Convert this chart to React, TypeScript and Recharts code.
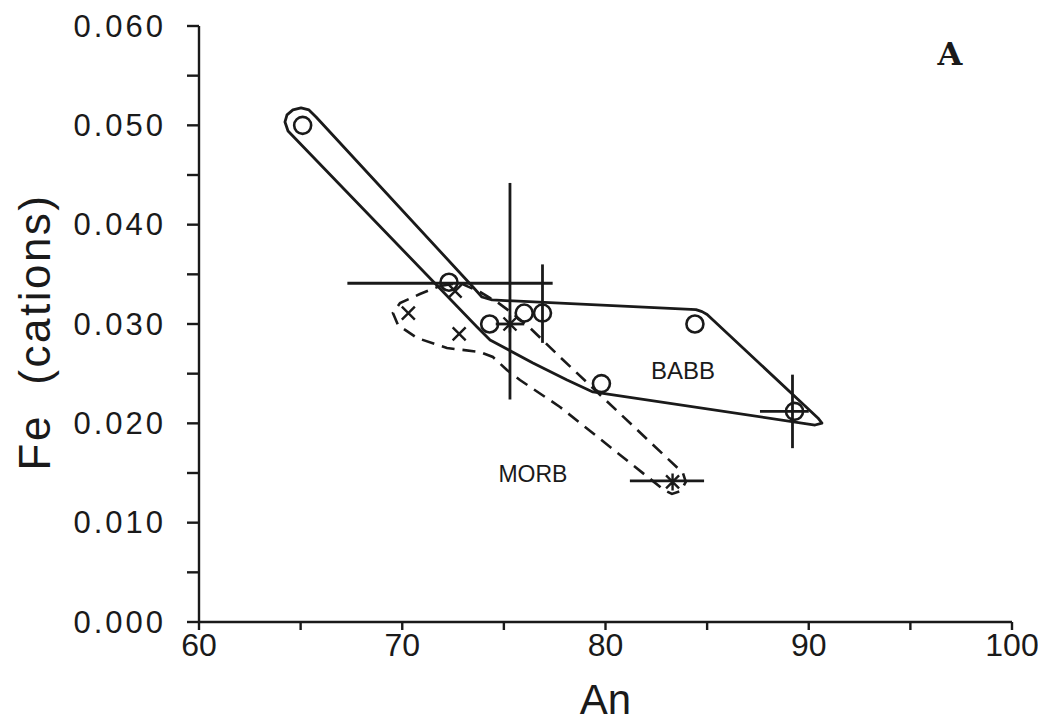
import React from 'react';
import {
  ComposedChart,
  Scatter,
  XAxis,
  YAxis,
  ReferenceLine,
  ReferenceDot,
  Label,
} from 'recharts';

// Open circles: back-arc basin basalt (BABB) plagioclase
const babbAn = [65.1, 72.3, 74.3, 76.0, 76.9, 79.8, 84.4, 89.3];
const babbFe = [0.05, 0.0342, 0.03, 0.0311, 0.0311, 0.024, 0.03, 0.0212];

// Crosses: MORB plagioclase
const morbCrossAn = [70.3, 72.8, 72.6];
const morbCrossFe = [0.0311, 0.029, 0.0333];

// Asterisks: MORB plagioclase (averages)
const morbStarAn = [75.3, 83.3];
const morbStarFe = [0.03, 0.0141];

// Error bars: [an low, an high, fe low, fe high]
const errorBars: [number, number, number, number][] = [
  [67.3, 77.4, 0.0341, 0.0341],
  [75.3, 75.3, 0.0224, 0.0442],
  [76.9, 76.9, 0.0281, 0.036],
  [74.6, 76.0, 0.03, 0.03],
  [87.6, 90.0, 0.0212, 0.0212],
  [89.2, 89.2, 0.0175, 0.0249],
  [81.2, 84.85, 0.0142, 0.0142],
];

// BABB field outline (solid)
const babbFieldAn = [
  65.76, 73.48, 73.92, 74.42, 84.45, 84.75, 85.0, 90.45, 90.65, 90.31, 79.38, 78.11,
  76.43, 74.32, 73.68, 64.38, 64.23, 64.33, 64.62, 65.02, 65.41, 65.76,
];
const babbFieldFe = [
  0.05084, 0.03373, 0.03272, 0.03242, 0.03145, 0.03125, 0.03095, 0.02054, 0.02003,
  0.01983, 0.02316, 0.02436, 0.02607, 0.02839, 0.0297, 0.04943, 0.05034, 0.05105,
  0.05155, 0.05175, 0.05155, 0.05084,
];

// MORB field outline (dashed)
const morbFieldAn = [
  71.86, 72.84, 73.83, 74.66, 75.4, 76.29, 77.76, 83.81, 83.95, 83.71, 83.27, 82.88,
  77.76, 75.79, 75.15, 74.46, 73.83, 72.2, 70.73, 69.79, 69.54, 69.89, 70.87, 71.86,
];
const morbFieldFe = [
  0.03383, 0.03413, 0.03322, 0.03222, 0.03111, 0.0296, 0.02668, 0.015, 0.0141,
  0.01319, 0.01289, 0.01329, 0.02165, 0.02436, 0.02537, 0.02668, 0.02718, 0.02758,
  0.02859, 0.0299, 0.03111, 0.03211, 0.03302, 0.03383,
];

const xTicks = [60, 65, 70, 75, 80, 85, 90, 95, 100];
const yTicks = [0, 0.005, 0.01, 0.015, 0.02, 0.025, 0.03, 0.035, 0.04, 0.045, 0.05, 0.055, 0.06];

const zip = (xs: number[], ys: number[]) => xs.map((an, i) => ({ an, fe: ys[i] }));

const babbPts = zip(babbAn, babbFe);
const crossPts = zip(morbCrossAn, morbCrossFe);
const starPts = zip(morbStarAn, morbStarFe);
const babbField = zip(babbFieldAn, babbFieldFe);
const morbField = zip(morbFieldAn, morbFieldFe);

const INK = '#1a1a1a';
const FONT = '"Liberation Sans", Arial, Helvetica, sans-serif';

const OpenCircle = (p: any) => (
  <circle cx={p.cx} cy={p.cy} r={8.5} fill="none" stroke={INK} strokeWidth={2.6} />
);

const Cross = (p: any) => {
  const s = 6.5;
  return (
    <path
      d={`M${p.cx - s},${p.cy - s}L${p.cx + s},${p.cy + s}M${p.cx - s},${p.cy + s}L${p.cx + s},${p.cy - s}`}
      stroke={INK}
      strokeWidth={2.4}
      fill="none"
    />
  );
};

const Star = (p: any) => {
  const s = 6.5;
  return (
    <path
      d={`M${p.cx - s},${p.cy - s}L${p.cx + s},${p.cy + s}M${p.cx - s},${p.cy + s}L${p.cx + s},${p.cy - s}M${p.cx},${p.cy - s - 2}L${p.cx},${p.cy + s + 2}`}
      stroke={INK}
      strokeWidth={2.4}
      fill="none"
    />
  );
};

const NoShape = () => <g />;

const YTick = (p: any) => {
  const v = p.payload.value as number;
  const major = Math.round(v * 1000) % 10 === 0;
  if (!major) return <g />;
  return (
    <text
      x={p.x}
      y={p.y}
      textAnchor="end"
      dominantBaseline="central"
      fontFamily={FONT}
      fontSize={31}
      letterSpacing={3}
      fill={INK}
    >
      {v.toFixed(3)}
    </text>
  );
};

const XTick = (p: any) => {
  const v = p.payload.value as number;
  if (v % 10 !== 0) return <g />;
  return (
    <text x={p.x} y={p.y + 24} textAnchor="middle" fontFamily={FONT} fontSize={32} fill={INK}>
      {v}
    </text>
  );
};

const Note = (text: string, size: number, family: string, weight: string) => (p: any) => (
  <text
    x={p.cx}
    y={p.cy}
    textAnchor="middle"
    dominantBaseline="central"
    fontFamily={family}
    fontSize={size}
    fontWeight={weight}
    fill={INK}
  >
    {text}
  </text>
);

export default function App() {
  return (
    <div style={{ width: 1030, height: 720, background: '#fff' }}>
      <ComposedChart
        width={1030}
        height={720}
        margin={{ top: 18, right: 26, bottom: 8, left: 0 }}
      >
        <XAxis
          type="number"
          dataKey="an"
          domain={[60, 100]}
          ticks={xTicks}
          interval={0}
          height={98}
          tickSize={8}
          tickMargin={2}
          stroke={INK}
          strokeWidth={2.4}
          tick={<XTick />}
          allowDataOverflow
        >
          <Label
            content={(p: any) => (
              <text
                x={p.viewBox.x + p.viewBox.width / 2}
                y={p.viewBox.y + 92}
                textAnchor="middle"
                fontFamily={FONT}
                fontSize={42}
                fill={INK}
              >
                An
              </text>
            )}
          />
        </XAxis>
        <YAxis
          type="number"
          dataKey="fe"
          domain={[0, 0.06]}
          ticks={yTicks}
          interval={0}
          width={191}
          tickSize={12}
          tickMargin={21}
          stroke={INK}
          strokeWidth={2.4}
          tick={<YTick />}
          allowDataOverflow
        >
          <Label
            content={(p: any) => {
              const cx = 26;
              const cy = p.viewBox.y + p.viewBox.height / 2 + 8;
              return (
                <text
                  x={cx}
                  y={cy}
                  transform={`rotate(-90 ${cx} ${cy})`}
                  textAnchor="middle"
                  dominantBaseline="central"
                  fontFamily={FONT}
                  fontSize={44}
                  letterSpacing={2.5}
                  fill={INK}
                  style={{ whiteSpace: 'pre' }}
                >
                  {'Fe  (cations)'}
                </text>
              );
            }}
          />
        </YAxis>

        {errorBars.map(([a0, a1, f0, f1], i) => (
          <ReferenceLine
            key={`eb${i}`}
            segment={[
              { x: a0, y: f0 },
              { x: a1, y: f1 },
            ]}
            stroke={INK}
            strokeWidth={2.8}
            ifOverflow="visible"
          />
        ))}

        <Scatter
          data={babbField}
          shape={NoShape}
          line={{ stroke: INK, strokeWidth: 2.8, fill: 'none', strokeLinejoin: 'round' }}
          lineType="joint"
          isAnimationActive={false}
        />
        <Scatter
          data={morbField}
          shape={NoShape}
          line={{ stroke: INK, strokeWidth: 2.6, strokeDasharray: '13 8', fill: 'none' }}
          lineType="joint"
          isAnimationActive={false}
        />
        <Scatter data={babbPts} shape={OpenCircle} isAnimationActive={false} />
        <Scatter data={crossPts} shape={Cross} isAnimationActive={false} />
        <Scatter data={starPts} shape={Star} isAnimationActive={false} />

        <ReferenceDot x={83.81} y={0.0253} r={0} ifOverflow="visible" shape={Note('BABB', 24, FONT, 'normal')} />
        <ReferenceDot x={76.43} y={0.0149} r={0} ifOverflow="visible" shape={Note('MORB', 23, FONT, 'normal')} />
        <ReferenceDot x={96.95} y={0.0572} r={0} ifOverflow="visible" shape={Note('A', 32, '"DejaVu Serif", serif', 'bold')} />
      </ComposedChart>
    </div>
  );
}
